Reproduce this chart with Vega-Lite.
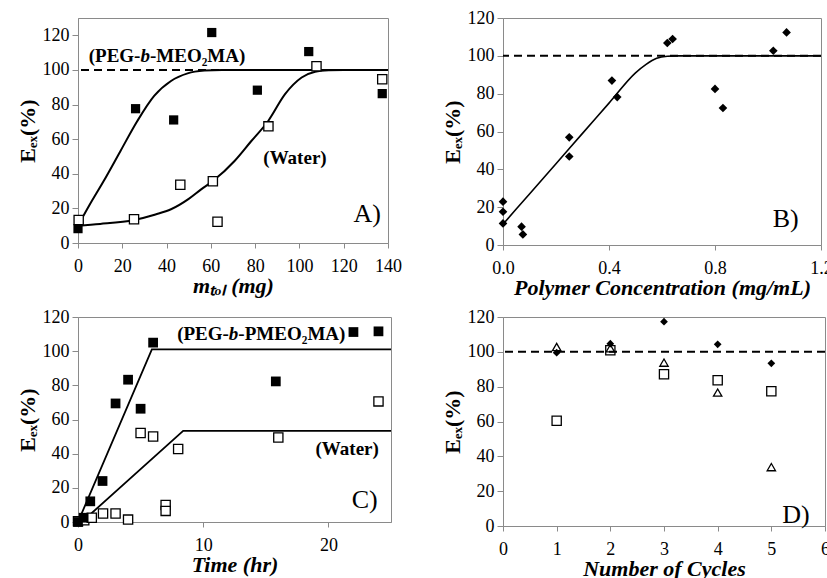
{
  "$schema": "https://vega.github.io/schema/vega-lite/v6.json",
  "padding": {"left": 15, "top": 8, "right": 0, "bottom": 0},
  "columns": 2,
  "align": "none",
  "bounds": "flush",
  "spacing": {"row": 72, "column": 112},
  "datasets": {
    "A_peg": [{"x":0,"y":8.3},{"x":26,"y":77.6},{"x":43.2,"y":71.1},{"x":60.4,"y":121.6},{"x":81,"y":88.3},{"x":104.2,"y":110.6},{"x":137.4,"y":86.3}],
    "A_water": [{"x":0.3,"y":13.3},{"x":25.3,"y":13.7},{"x":46.2,"y":33.7},{"x":60.9,"y":35.7},{"x":63,"y":12.3},{"x":86,"y":67.4},{"x":107.7,"y":102.1},{"x":137.4,"y":94.6}],
    "A_fit_peg": [{"x":0,"y":10},{"x":5,"y":21.5},{"x":11.6,"y":35.8},{"x":19.2,"y":53.2},{"x":26.8,"y":70.5},{"x":34.4,"y":85},{"x":42,"y":93.6},{"x":49.5,"y":98},{"x":57.1,"y":99.6},{"x":65,"y":100},{"x":140,"y":100}],
    "A_fit_water": [{"x":0,"y":10},{"x":10,"y":11},{"x":25.3,"y":13.3},{"x":35,"y":16.5},{"x":42,"y":19.5},{"x":50,"y":25.5},{"x":55.6,"y":31},{"x":60.9,"y":35.8},{"x":70.7,"y":47.4},{"x":78,"y":58.5},{"x":85.9,"y":70.5},{"x":93.5,"y":86},{"x":101,"y":95.6},{"x":107.1,"y":99},{"x":113.2,"y":99.8},{"x":120,"y":100},{"x":140,"y":100}],
    "B_pts": [{"x":0,"y":22.9},{"x":0,"y":17.6},{"x":0,"y":11.4},{"x":0.07,"y":9.7},{"x":0.075,"y":5.6},{"x":0.25,"y":56.9},{"x":0.25,"y":46.8},{"x":0.411,"y":86.9},{"x":0.431,"y":78.2},{"x":0.62,"y":106.8},{"x":0.64,"y":108.9},{"x":0.8,"y":82.5},{"x":0.83,"y":72.4},{"x":1.02,"y":102.7},{"x":1.07,"y":112.4}],
    "B_fit": [{"x":0,"y":11},{"x":0.1,"y":27},{"x":0.2,"y":43},{"x":0.3,"y":59},{"x":0.4,"y":75},{"x":0.5,"y":91},{"x":0.54,"y":95.5},{"x":0.58,"y":98.7},{"x":0.62,"y":99.8},{"x":0.66,"y":100},{"x":1.2,"y":100}],
    "C_peg": [{"x":0,"y":0},{"x":0.45,"y":2.5},{"x":0.98,"y":12.1},{"x":1.96,"y":24},{"x":3,"y":69.4},{"x":4,"y":83.3},{"x":5,"y":66.3},{"x":6,"y":105},{"x":15.8,"y":82.3},{"x":22,"y":111.2},{"x":24,"y":111.6}],
    "C_water": [{"x":0,"y":0.5},{"x":0.5,"y":1},{"x":1.1,"y":2.5},{"x":2,"y":5},{"x":3,"y":5},{"x":4,"y":1.4},{"x":5,"y":52.1},{"x":6,"y":50},{"x":7,"y":10},{"x":7,"y":6.5},{"x":8,"y":42.7},{"x":16,"y":49.5},{"x":24,"y":70.6}],
    "C_fit_peg": [{"x":0,"y":0},{"x":5.9,"y":101},{"x":25,"y":101}],
    "C_fit_water": [{"x":0.3,"y":0},{"x":8.4,"y":53.3},{"x":25,"y":53.3}],
    "D_diamond": [{"x":1,"y":99.5},{"x":2,"y":104.7},{"x":3,"y":117.3},{"x":4,"y":104.3},{"x":5,"y":93.4}],
    "D_tri": [{"x":1,"y":102.8},{"x":2,"y":102},{"x":3,"y":93.8},{"x":4,"y":76.6},{"x":5,"y":33.8}],
    "D_sq": [{"x":1,"y":60.4},{"x":2,"y":100.9},{"x":3,"y":87.1},{"x":4,"y":83.7},{"x":5,"y":77.4}]
  },
  "concat": [
    {
      "width": 310, "height": 225,
      "layer": [
        {"data":{"name":"A_fit_peg"},"mark":{"type":"line","interpolate":"monotone","color":"black","strokeWidth":2},
         "encoding":{"x":{"field":"x","type":"quantitative","scale":{"domain":[0,140],"nice":false},"axis":{"values":[0,20,40,60,80,100,120,140],"format":"d","labelOverlap":false,"title":"mₜₒₗ (mg)"}},
                     "y":{"field":"y","type":"quantitative","scale":{"domain":[0,130],"nice":false},"axis":{"values":[0,20,40,60,80,100,120],"format":"d","labelOverlap":false,"title":"Eₑₓ(%)"}}}},
        {"data":{"values":[{}]},"mark":{"type":"rule","strokeDash":[8,5],"strokeWidth":2,"color":"black"},
         "encoding":{"y":{"datum":100,"type":"quantitative","scale":{"domain":[0,130],"nice":false},"axis":{"values":[0,20,40,60,80,100,120],"format":"d","labelOverlap":false,"title":"Eₑₓ(%)"}}}},
        {"data":{"name":"A_fit_water"},"mark":{"type":"line","interpolate":"monotone","color":"black","strokeWidth":2},
         "encoding":{"x":{"field":"x","type":"quantitative","scale":{"domain":[0,140],"nice":false},"axis":{"values":[0,20,40,60,80,100,120,140],"format":"d","labelOverlap":false,"title":"mₜₒₗ (mg)"}},
                     "y":{"field":"y","type":"quantitative","scale":{"domain":[0,130],"nice":false},"axis":{"values":[0,20,40,60,80,100,120],"format":"d","labelOverlap":false,"title":"Eₑₓ(%)"}}}},
        {"data":{"name":"A_peg"},"mark":{"type":"point","shape":"square","filled":true,"color":"black","size":85,"opacity":1},
         "encoding":{"x":{"field":"x","type":"quantitative","scale":{"domain":[0,140],"nice":false},"axis":{"values":[0,20,40,60,80,100,120,140],"format":"d","labelOverlap":false,"title":"mₜₒₗ (mg)"}},
                     "y":{"field":"y","type":"quantitative","scale":{"domain":[0,130],"nice":false},"axis":{"values":[0,20,40,60,80,100,120],"format":"d","labelOverlap":false,"title":"Eₑₓ(%)"}}}},
        {"data":{"name":"A_water"},"mark":{"type":"point","shape":"square","filled":true,"fill":"white","stroke":"black","strokeWidth":1.3,"size":85,"opacity":1},
         "encoding":{"x":{"field":"x","type":"quantitative","scale":{"domain":[0,140],"nice":false},"axis":{"values":[0,20,40,60,80,100,120,140],"format":"d","labelOverlap":false,"title":"mₜₒₗ (mg)"}},
                     "y":{"field":"y","type":"quantitative","scale":{"domain":[0,130],"nice":false},"axis":{"values":[0,20,40,60,80,100,120],"format":"d","labelOverlap":false,"title":"Eₑₓ(%)"}}}},
        {"data":{"values":[{}]},"mark":{"type":"text","text":"(PEG-","align":"right","fontWeight":"bold","fontSize":19,"color":"black"},
         "encoding":{"x":{"datum":28.2,"type":"quantitative","scale":{"domain":[0,140],"nice":false},"axis":{"values":[0,20,40,60,80,100,120,140],"format":"d","labelOverlap":false,"title":"mₜₒₗ (mg)"}},
                     "y":{"datum":108.1,"type":"quantitative","scale":{"domain":[0,130],"nice":false},"axis":{"values":[0,20,40,60,80,100,120],"format":"d","labelOverlap":false,"title":"Eₑₓ(%)"}}}},
        {"data":{"values":[{}]},"mark":{"type":"text","text":"b","align":"left","fontWeight":"bold","fontStyle":"italic","fontSize":19,"color":"black"},
         "encoding":{"x":{"datum":28.2,"type":"quantitative","scale":{"domain":[0,140],"nice":false},"axis":{"values":[0,20,40,60,80,100,120,140],"format":"d","labelOverlap":false,"title":"mₜₒₗ (mg)"}},
                     "y":{"datum":108.1,"type":"quantitative","scale":{"domain":[0,130],"nice":false},"axis":{"values":[0,20,40,60,80,100,120],"format":"d","labelOverlap":false,"title":"Eₑₓ(%)"}}}},
        {"data":{"values":[{}]},"mark":{"type":"text","text":"-MEO₂MA)","align":"left","dx":9.5,"fontWeight":"bold","fontSize":19,"color":"black"},
         "encoding":{"x":{"datum":28.2,"type":"quantitative","scale":{"domain":[0,140],"nice":false},"axis":{"values":[0,20,40,60,80,100,120,140],"format":"d","labelOverlap":false,"title":"mₜₒₗ (mg)"}},
                     "y":{"datum":108.1,"type":"quantitative","scale":{"domain":[0,130],"nice":false},"axis":{"values":[0,20,40,60,80,100,120],"format":"d","labelOverlap":false,"title":"Eₑₓ(%)"}}}},
        {"data":{"values":[{}]},"mark":{"type":"text","text":"(Water)","fontWeight":"bold","fontSize":19,"color":"black"},
         "encoding":{"x":{"datum":98,"type":"quantitative","scale":{"domain":[0,140],"nice":false},"axis":{"values":[0,20,40,60,80,100,120,140],"format":"d","labelOverlap":false,"title":"mₜₒₗ (mg)"}},
                     "y":{"datum":49,"type":"quantitative","scale":{"domain":[0,130],"nice":false},"axis":{"values":[0,20,40,60,80,100,120],"format":"d","labelOverlap":false,"title":"Eₑₓ(%)"}}}},
        {"data":{"values":[{}]},"mark":{"type":"text","text":"A)","fontSize":26,"color":"black"},
         "encoding":{"x":{"datum":130.6,"type":"quantitative","scale":{"domain":[0,140],"nice":false},"axis":{"values":[0,20,40,60,80,100,120,140],"format":"d","labelOverlap":false,"title":"mₜₒₗ (mg)"}},
                     "y":{"datum":16.9,"type":"quantitative","scale":{"domain":[0,130],"nice":false},"axis":{"values":[0,20,40,60,80,100,120],"format":"d","labelOverlap":false,"title":"Eₑₓ(%)"}}}}
      ]
    },
    {
      "width": 318, "height": 227,
      "layer": [
        {"data":{"name":"B_fit"},"mark":{"type":"line","interpolate":"monotone","color":"black","strokeWidth":1.6},
         "encoding":{"x":{"field":"x","type":"quantitative","scale":{"domain":[0,1.2],"nice":false},"axis":{"values":[0,0.4,0.8,1.2],"format":".1f","labelOverlap":false,"title":"Polymer Concentration (mg/mL)"}},
                     "y":{"field":"y","type":"quantitative","scale":{"domain":[0,120],"nice":false},"axis":{"values":[0,20,40,60,80,100,120],"format":"d","labelOverlap":false,"title":"Eₑₓ(%)"}}}},
        {"data":{"values":[{}]},"mark":{"type":"rule","strokeDash":[8,5],"strokeWidth":2,"color":"black"},
         "encoding":{"y":{"datum":100,"type":"quantitative","scale":{"domain":[0,120],"nice":false},"axis":{"values":[0,20,40,60,80,100,120],"format":"d","labelOverlap":false,"title":"Eₑₓ(%)"}}}},
        {"data":{"name":"B_pts"},"mark":{"type":"point","shape":"diamond","filled":true,"color":"black","size":75,"opacity":1},
         "encoding":{"x":{"field":"x","type":"quantitative","scale":{"domain":[0,1.2],"nice":false},"axis":{"values":[0,0.4,0.8,1.2],"format":".1f","labelOverlap":false,"title":"Polymer Concentration (mg/mL)"}},
                     "y":{"field":"y","type":"quantitative","scale":{"domain":[0,120],"nice":false},"axis":{"values":[0,20,40,60,80,100,120],"format":"d","labelOverlap":false,"title":"Eₑₓ(%)"}}}},
        {"data":{"values":[{}]},"mark":{"type":"text","text":"B)","fontSize":26,"color":"black"},
         "encoding":{"x":{"datum":1.067,"type":"quantitative","scale":{"domain":[0,1.2],"nice":false},"axis":{"values":[0,0.4,0.8,1.2],"format":".1f","labelOverlap":false,"title":"Polymer Concentration (mg/mL)"}},
                     "y":{"datum":13.7,"type":"quantitative","scale":{"domain":[0,120],"nice":false},"axis":{"values":[0,20,40,60,80,100,120],"format":"d","labelOverlap":false,"title":"Eₑₓ(%)"}}}}
      ]
    },
    {
      "width": 313, "height": 205,
      "layer": [
        {"data":{"name":"C_fit_peg"},"mark":{"type":"line","color":"black","strokeWidth":1.8},
         "encoding":{"x":{"field":"x","type":"quantitative","scale":{"domain":[0,25],"nice":false},"axis":{"values":[0,10,20],"format":"d","labelOverlap":false,"title":"Time (hr)"}},
                     "y":{"field":"y","type":"quantitative","scale":{"domain":[0,120],"nice":false},"axis":{"values":[0,20,40,60,80,100,120],"format":"d","labelOverlap":false,"title":"Eₑₓ(%)"}}}},
        {"data":{"name":"C_fit_water"},"mark":{"type":"line","color":"black","strokeWidth":1.8},
         "encoding":{"x":{"field":"x","type":"quantitative","scale":{"domain":[0,25],"nice":false},"axis":{"values":[0,10,20],"format":"d","labelOverlap":false,"title":"Time (hr)"}},
                     "y":{"field":"y","type":"quantitative","scale":{"domain":[0,120],"nice":false},"axis":{"values":[0,20,40,60,80,100,120],"format":"d","labelOverlap":false,"title":"Eₑₓ(%)"}}}},
        {"data":{"name":"C_water"},"mark":{"type":"point","shape":"square","filled":true,"fill":"white","stroke":"black","strokeWidth":1.3,"size":85,"opacity":1},
         "encoding":{"x":{"field":"x","type":"quantitative","scale":{"domain":[0,25],"nice":false},"axis":{"values":[0,10,20],"format":"d","labelOverlap":false,"title":"Time (hr)"}},
                     "y":{"field":"y","type":"quantitative","scale":{"domain":[0,120],"nice":false},"axis":{"values":[0,20,40,60,80,100,120],"format":"d","labelOverlap":false,"title":"Eₑₓ(%)"}}}},
        {"data":{"name":"C_peg"},"mark":{"type":"point","shape":"square","filled":true,"color":"black","size":95,"opacity":1},
         "encoding":{"x":{"field":"x","type":"quantitative","scale":{"domain":[0,25],"nice":false},"axis":{"values":[0,10,20],"format":"d","labelOverlap":false,"title":"Time (hr)"}},
                     "y":{"field":"y","type":"quantitative","scale":{"domain":[0,120],"nice":false},"axis":{"values":[0,20,40,60,80,100,120],"format":"d","labelOverlap":false,"title":"Eₑₓ(%)"}}}},
        {"data":{"values":[{}]},"mark":{"type":"text","text":"(PEG-","align":"right","fontWeight":"bold","fontSize":19,"color":"black"},
         "encoding":{"x":{"datum":12.05,"type":"quantitative","scale":{"domain":[0,25],"nice":false},"axis":{"values":[0,10,20],"format":"d","labelOverlap":false,"title":"Time (hr)"}},
                     "y":{"datum":109.8,"type":"quantitative","scale":{"domain":[0,120],"nice":false},"axis":{"values":[0,20,40,60,80,100,120],"format":"d","labelOverlap":false,"title":"Eₑₓ(%)"}}}},
        {"data":{"values":[{}]},"mark":{"type":"text","text":"b","align":"left","fontWeight":"bold","fontStyle":"italic","fontSize":19,"color":"black"},
         "encoding":{"x":{"datum":12.05,"type":"quantitative","scale":{"domain":[0,25],"nice":false},"axis":{"values":[0,10,20],"format":"d","labelOverlap":false,"title":"Time (hr)"}},
                     "y":{"datum":109.8,"type":"quantitative","scale":{"domain":[0,120],"nice":false},"axis":{"values":[0,20,40,60,80,100,120],"format":"d","labelOverlap":false,"title":"Eₑₓ(%)"}}}},
        {"data":{"values":[{}]},"mark":{"type":"text","text":"-PMEO₂MA)","align":"left","dx":9.5,"fontWeight":"bold","fontSize":19,"color":"black"},
         "encoding":{"x":{"datum":12.05,"type":"quantitative","scale":{"domain":[0,25],"nice":false},"axis":{"values":[0,10,20],"format":"d","labelOverlap":false,"title":"Time (hr)"}},
                     "y":{"datum":109.8,"type":"quantitative","scale":{"domain":[0,120],"nice":false},"axis":{"values":[0,20,40,60,80,100,120],"format":"d","labelOverlap":false,"title":"Eₑₓ(%)"}}}},
        {"data":{"values":[{}]},"mark":{"type":"text","text":"(Water)","fontWeight":"bold","fontSize":19,"color":"black"},
         "encoding":{"x":{"datum":21.5,"type":"quantitative","scale":{"domain":[0,25],"nice":false},"axis":{"values":[0,10,20],"format":"d","labelOverlap":false,"title":"Time (hr)"}},
                     "y":{"datum":42.5,"type":"quantitative","scale":{"domain":[0,120],"nice":false},"axis":{"values":[0,20,40,60,80,100,120],"format":"d","labelOverlap":false,"title":"Eₑₓ(%)"}}}},
        {"data":{"values":[{}]},"mark":{"type":"text","text":"C)","fontSize":26,"color":"black"},
         "encoding":{"x":{"datum":22.9,"type":"quantitative","scale":{"domain":[0,25],"nice":false},"axis":{"values":[0,10,20],"format":"d","labelOverlap":false,"title":"Time (hr)"}},
                     "y":{"datum":12.9,"type":"quantitative","scale":{"domain":[0,120],"nice":false},"axis":{"values":[0,20,40,60,80,100,120],"format":"d","labelOverlap":false,"title":"Eₑₓ(%)"}}}}
      ]
    },
    {
      "width": 322, "height": 209,
      "layer": [
        {"data":{"name":"D_sq"},"mark":{"type":"point","shape":"square","filled":true,"fill":"white","stroke":"black","strokeWidth":1.3,"size":85,"opacity":1},
         "encoding":{"x":{"field":"x","type":"quantitative","scale":{"domain":[0,6],"nice":false},"axis":{"values":[0,1,2,3,4,5,6],"format":"d","labelOverlap":false,"title":"Number of Cycles"}},
                     "y":{"field":"y","type":"quantitative","scale":{"domain":[0,120],"nice":false},"axis":{"values":[0,20,40,60,80,100,120],"format":"d","labelOverlap":false,"title":"Eₑₓ(%)"}}}},
        {"data":{"values":[{}]},"mark":{"type":"rule","strokeDash":[8,5],"strokeWidth":2,"color":"black"},
         "encoding":{"y":{"datum":100,"type":"quantitative","scale":{"domain":[0,120],"nice":false},"axis":{"values":[0,20,40,60,80,100,120],"format":"d","labelOverlap":false,"title":"Eₑₓ(%)"}}}},
        {"data":{"name":"D_tri"},"mark":{"type":"point","shape":"triangle-up","filled":false,"color":"black","strokeWidth":1.3,"size":70,"opacity":1},
         "encoding":{"x":{"field":"x","type":"quantitative","scale":{"domain":[0,6],"nice":false},"axis":{"values":[0,1,2,3,4,5,6],"format":"d","labelOverlap":false,"title":"Number of Cycles"}},
                     "y":{"field":"y","type":"quantitative","scale":{"domain":[0,120],"nice":false},"axis":{"values":[0,20,40,60,80,100,120],"format":"d","labelOverlap":false,"title":"Eₑₓ(%)"}}}},
        {"data":{"name":"D_diamond"},"mark":{"type":"point","shape":"diamond","filled":true,"color":"black","size":60,"opacity":1},
         "encoding":{"x":{"field":"x","type":"quantitative","scale":{"domain":[0,6],"nice":false},"axis":{"values":[0,1,2,3,4,5,6],"format":"d","labelOverlap":false,"title":"Number of Cycles"}},
                     "y":{"field":"y","type":"quantitative","scale":{"domain":[0,120],"nice":false},"axis":{"values":[0,20,40,60,80,100,120],"format":"d","labelOverlap":false,"title":"Eₑₓ(%)"}}}},
        {"data":{"values":[{}]},"mark":{"type":"text","text":"D)","fontSize":26,"color":"black"},
         "encoding":{"x":{"datum":5.46,"type":"quantitative","scale":{"domain":[0,6],"nice":false},"axis":{"values":[0,1,2,3,4,5,6],"format":"d","labelOverlap":false,"title":"Number of Cycles"}},
                     "y":{"datum":6.3,"type":"quantitative","scale":{"domain":[0,120],"nice":false},"axis":{"values":[0,20,40,60,80,100,120],"format":"d","labelOverlap":false,"title":"Eₑₓ(%)"}}}}
      ]
    }
  ],
  "config": {
    "font": "Liberation Serif",
    "text": {"font": "Liberation Serif"},
    "view": {"stroke": "#8a8a8a"},
    "axis": {"grid": false, "domainColor": "#8a8a8a", "tickColor": "#8a8a8a", "labelFont": "Liberation Serif", "labelFontSize": 18, "labelColor": "black", "titleFont": "Liberation Serif", "titleFontSize": 22, "titleFontWeight": "bold", "titleColor": "black", "labelFlush": false, "labelOverlap": false},
    "axisX": {"tickSize": 5, "labelPadding": 9, "titlePadding": 0, "titleFontStyle": "italic"},
    "axisY": {"tickSize": 6, "labelPadding": 3, "titlePadding": 3}
  }
}
